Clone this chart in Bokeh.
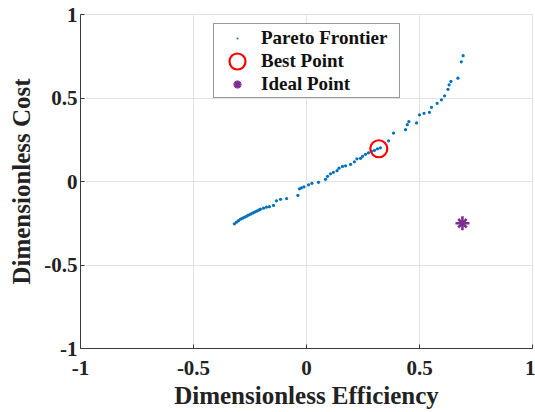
from bokeh.plotting import figure
from bokeh.models import Range1d, Legend, LegendItem, FixedTicker
from bokeh.embed import file_html
from bokeh.resources import INLINE

# Pareto frontier (dimensionless efficiency, dimensionless cost)
pareto_eff = [-0.319, -0.310, -0.301, -0.292, -0.283, -0.274, -0.265, -0.257, -0.248, -0.239,
              -0.230, -0.221, -0.212, -0.204, -0.190, -0.177, -0.164, -0.146, -0.133, -0.115,
              -0.088, -0.038, -0.031, -0.022, -0.011, 0.009, 0.024, 0.053, 0.084, 0.093,
              0.106, 0.119, 0.135, 0.144, 0.159, 0.173, 0.195, 0.212, 0.223, 0.239,
              0.248, 0.261, 0.274, 0.288, 0.301, 0.314, 0.327, 0.363, 0.385, 0.438,
              0.446, 0.453, 0.487, 0.500, 0.520, 0.544, 0.553, 0.578, 0.597, 0.611,
              0.626, 0.631, 0.639, 0.670, 0.685, 0.693]
pareto_cost = [-0.253, -0.244, -0.235, -0.226, -0.220, -0.214, -0.208, -0.202, -0.196, -0.190,
               -0.184, -0.178, -0.172, -0.166, -0.160, -0.154, -0.151, -0.143, -0.116, -0.107,
               -0.102, -0.083, -0.044, -0.038, -0.032, -0.020, -0.011, -0.005, 0.013, 0.031,
               0.046, 0.055, 0.065, 0.080, 0.090, 0.094, 0.103, 0.118, 0.136, 0.139,
               0.151, 0.163, 0.172, 0.181, 0.187, 0.196, 0.202, 0.244, 0.290, 0.310,
               0.340, 0.359, 0.351, 0.399, 0.408, 0.414, 0.444, 0.468, 0.489, 0.513,
               0.552, 0.579, 0.599, 0.619, 0.717, 0.753]
best_eff = [0.32]
best_cost = [0.196]
ideal_eff = [0.69]
ideal_cost = [-0.25]

tick_values = [-1, -0.5, 0, 0.5, 1]
tick_labels = ["-1", "-0.5", "0", "0.5", "1"]
x_title = "Dimensionless Efficiency"
y_title = "Dimensionless Cost"

FONT = "Liberation Serif"

p = figure(width=535, height=412, output_backend="svg", toolbar_location=None,
           x_range=Range1d(-1, 1), y_range=Range1d(-1, 1),
           min_border_left=80, min_border_right=3, min_border_top=14, min_border_bottom=64,
           background_fill_color="white", border_fill_color="white")

r_pf = p.scatter(pareto_eff, pareto_cost, marker="dot", size=13,
                 fill_color="#0072BD", line_color="#0072BD")
r_best = p.ellipse(best_eff, best_cost, width=17, height=17,
                   width_units="screen", height_units="screen",
                   fill_color=None, line_color="#FF0000", line_width=2.2)
r_ideal1 = p.scatter(ideal_eff, ideal_cost, marker="x", size=12,
                     line_color="#7E2F8E", line_width=2.6)
r_ideal2 = p.scatter(ideal_eff, ideal_cost, marker="cross", size=14,
                     line_color="#7E2F8E", line_width=2.6)

overrides = dict(zip(tick_values, tick_labels))
for ax in (p.xaxis[0], p.yaxis[0]):
    ax.ticker = FixedTicker(ticks=tick_values)
    ax.major_label_overrides = overrides
    ax.major_tick_in = 4
    ax.major_tick_out = 0
    ax.minor_tick_line_color = None
    ax.axis_line_color = "#3a3a3a"
    ax.major_tick_line_color = "#3a3a3a"
    ax.major_label_text_font = FONT
    ax.major_label_text_font_style = "bold"
    ax.major_label_text_font_size = "21px"
    ax.major_label_text_color = "#222222"
    ax.axis_label_text_font = FONT
    ax.axis_label_text_font_style = "bold"
    ax.axis_label_text_font_size = "25px"
    ax.axis_label_text_color = "#222222"

p.xaxis.axis_label = x_title
p.yaxis.axis_label = y_title
p.xaxis.major_label_standoff = 12
p.xaxis.axis_label_standoff = 4
p.yaxis.major_label_standoff = 3
p.yaxis.axis_label_standoff = 6

p.grid.grid_line_color = "#e3e3e3"
p.grid.grid_line_width = 1
p.outline_line_color = "#e3e3e3"

legend = Legend(items=[
    LegendItem(label="Pareto Frontier", renderers=[r_pf]),
    LegendItem(label="Best Point", renderers=[r_best]),
    LegendItem(label="Ideal Point", renderers=[r_ideal1, r_ideal2]),
], location=(133, 250))
legend.label_text_font = FONT
legend.label_text_font_style = "bold"
legend.label_text_font_size = "19px"
legend.label_text_color = "#111111"
legend.label_height = 23
legend.glyph_height = 20
legend.glyph_width = 42
legend.label_standoff = 3
legend.label_width = 136
legend.spacing = 0
legend.padding = 2
legend.margin = 0
legend.border_line_color = "#333333"
legend.border_line_width = 1
legend.background_fill_color = "white"
legend.background_fill_alpha = 1.0
p.add_layout(legend)

open("out.html", "w").write(file_html(p, INLINE))
